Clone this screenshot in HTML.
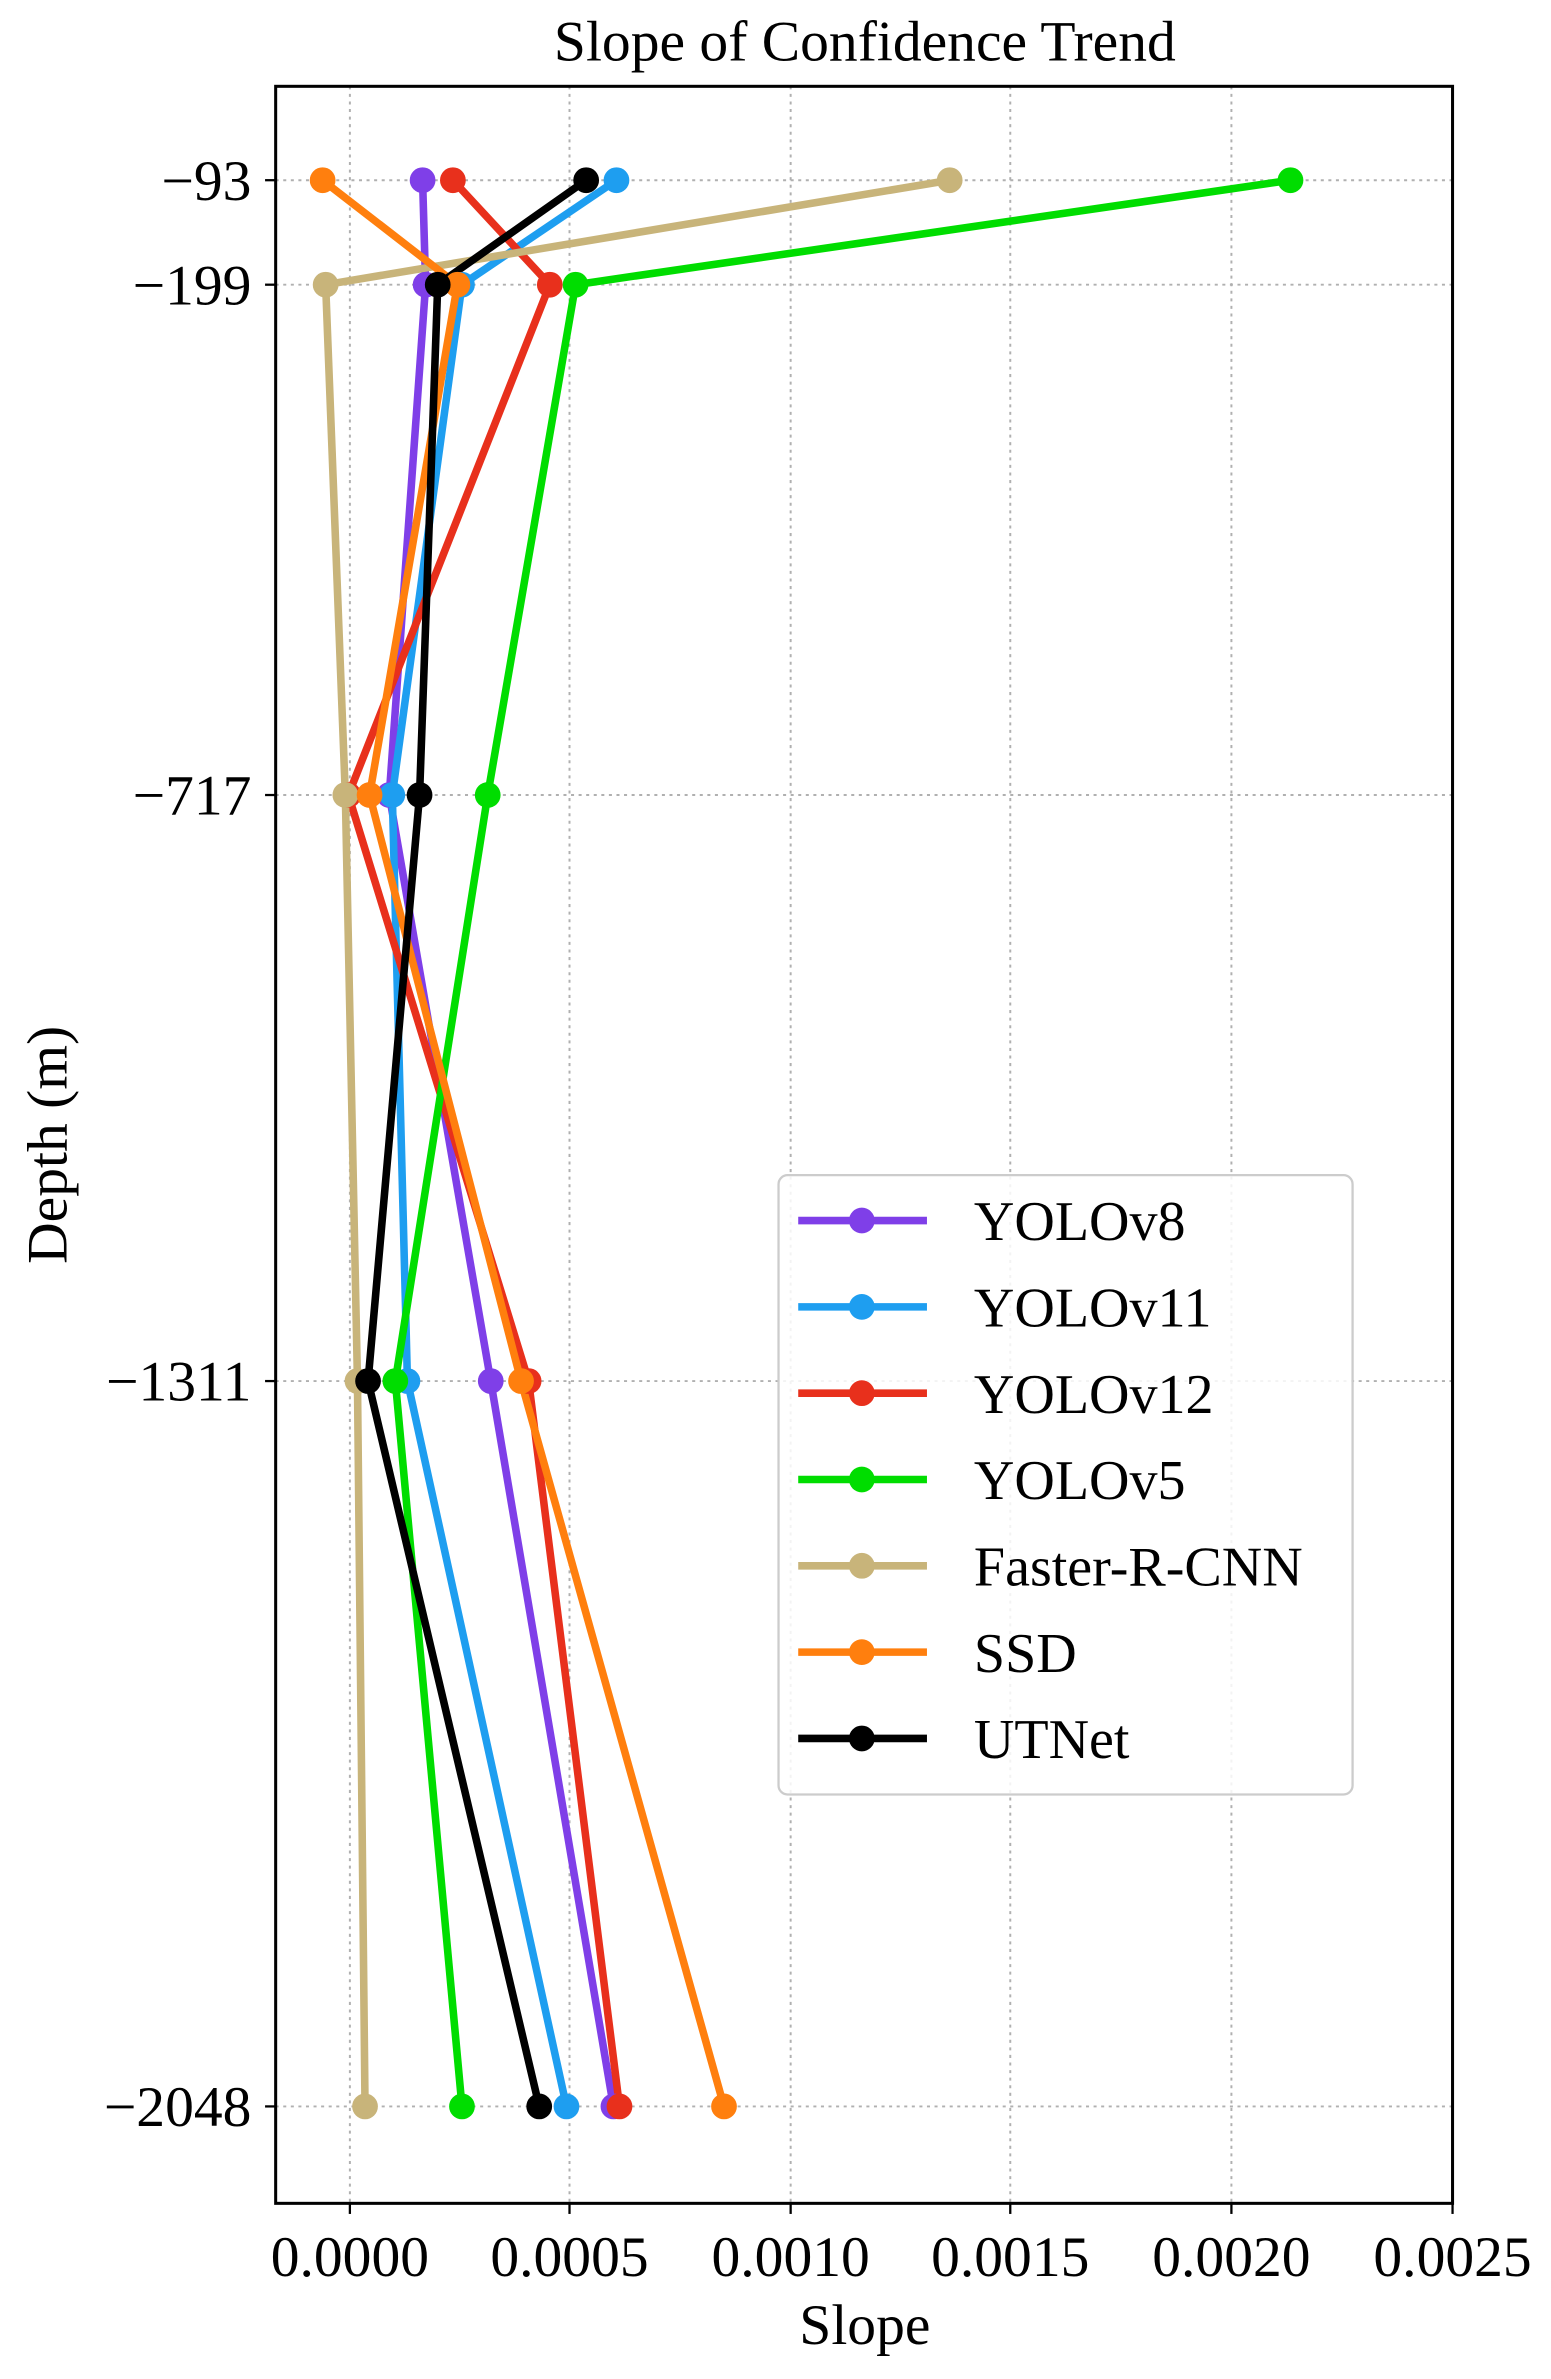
<!DOCTYPE html>
<html><head><meta charset="utf-8"><style>html,body{margin:0;padding:0;background:#fff}svg{display:block}</style></head>
<body>
<svg width="1551" height="2379" viewBox="0 0 1024 1571" preserveAspectRatio="none" xmlns="http://www.w3.org/2000/svg" font-family="Liberation Serif, serif">
<rect width="1024" height="1571" fill="#fff"/>
<g stroke="#b0b0b0" stroke-width="1.3" stroke-dasharray="2,3">
<line x1="231" y1="57" x2="231" y2="1455"/><line x1="376" y1="57" x2="376" y2="1455"/><line x1="522" y1="57" x2="522" y2="1455"/><line x1="667" y1="57" x2="667" y2="1455"/><line x1="813" y1="57" x2="813" y2="1455"/>
<line x1="182" y1="119" x2="959" y2="119"/><line x1="182" y1="188" x2="959" y2="188"/><line x1="182" y1="525" x2="959" y2="525"/><line x1="182" y1="912" x2="959" y2="912"/><line x1="182" y1="1391" x2="959" y2="1391"/>
</g>
<g fill="none" stroke-width="5" stroke-linejoin="round">
<polyline stroke="#7f3fe8" points="279,119 281,188 257,525 324,912 405,1391"/>
<polyline stroke="#1e9ef0" points="407,119 305,188 259,525 269,912 374,1391"/>
<polyline stroke="#e8301c" points="299,119 363,188 230,525 349,912 409,1391"/>
<polyline stroke="#00dd00" points="852,119 380,188 322,525 261,912 305,1391"/>
<polyline stroke="#c8b47a" points="627,119 215,188 228,525 236,912 241,1391"/>
<polyline stroke="#ff7f0e" points="213,119 302,188 244,525 344,912 478,1391"/>
<polyline stroke="#000" points="387,119 289,188 277,525 243,912 356,1391"/>
</g>
<g>
<g fill="#7f3fe8"><circle cx="279" cy="119" r="8.5"/><circle cx="281" cy="188" r="8.5"/><circle cx="257" cy="525" r="8.5"/><circle cx="324" cy="912" r="8.5"/><circle cx="405" cy="1391" r="8.5"/></g>
<g fill="#1e9ef0"><circle cx="407" cy="119" r="8.5"/><circle cx="305" cy="188" r="8.5"/><circle cx="259" cy="525" r="8.5"/><circle cx="269" cy="912" r="8.5"/><circle cx="374" cy="1391" r="8.5"/></g>
<g fill="#e8301c"><circle cx="299" cy="119" r="8.5"/><circle cx="363" cy="188" r="8.5"/><circle cx="230" cy="525" r="8.5"/><circle cx="349" cy="912" r="8.5"/><circle cx="409" cy="1391" r="8.5"/></g>
<g fill="#00dd00"><circle cx="852" cy="119" r="8.5"/><circle cx="380" cy="188" r="8.5"/><circle cx="322" cy="525" r="8.5"/><circle cx="261" cy="912" r="8.5"/><circle cx="305" cy="1391" r="8.5"/></g>
<g fill="#c8b47a"><circle cx="627" cy="119" r="8.5"/><circle cx="215" cy="188" r="8.5"/><circle cx="228" cy="525" r="8.5"/><circle cx="236" cy="912" r="8.5"/><circle cx="241" cy="1391" r="8.5"/></g>
<g fill="#ff7f0e"><circle cx="213" cy="119" r="8.5"/><circle cx="302" cy="188" r="8.5"/><circle cx="244" cy="525" r="8.5"/><circle cx="344" cy="912" r="8.5"/><circle cx="478" cy="1391" r="8.5"/></g>
<g fill="#000"><circle cx="387" cy="119" r="8.5"/><circle cx="289" cy="188" r="8.5"/><circle cx="277" cy="525" r="8.5"/><circle cx="243" cy="912" r="8.5"/><circle cx="356" cy="1391" r="8.5"/></g>
</g>
<rect x="182" y="57" width="777" height="1398" fill="none" stroke="#000" stroke-width="2"/>
<g stroke="#000" stroke-width="1.5">
<line x1="231" y1="1455" x2="231" y2="1462"/><line x1="376" y1="1455" x2="376" y2="1462"/><line x1="522" y1="1455" x2="522" y2="1462"/><line x1="667" y1="1455" x2="667" y2="1462"/><line x1="813" y1="1455" x2="813" y2="1462"/><line x1="959" y1="1455" x2="959" y2="1462"/>
<line x1="175" y1="119" x2="182" y2="119"/><line x1="175" y1="188" x2="182" y2="188"/><line x1="175" y1="525" x2="182" y2="525"/><line x1="175" y1="912" x2="182" y2="912"/><line x1="175" y1="1391" x2="182" y2="1391"/>
</g>
<g font-size="38" fill="#000" text-anchor="middle">
<text x="231" y="1503">0.0000</text><text x="376" y="1503">0.0005</text><text x="522" y="1503">0.0010</text><text x="667" y="1503">0.0015</text><text x="813" y="1503">0.0020</text><text x="959" y="1503">0.0025</text>
<text x="571" y="1548">Slope</text>
<text x="571" y="40">Slope of Confidence Trend</text>
</g>
<g font-size="38" fill="#000" text-anchor="end">
<text x="166" y="132">−93</text><text x="166" y="201">−199</text><text x="166" y="538">−717</text><text x="166" y="925">−1311</text><text x="166" y="1404">−2048</text>
</g>
<text x="0" y="0" font-size="38" text-anchor="middle" transform="translate(44,756) rotate(-90)">Depth (m)</text>
<rect x="514" y="776" width="379" height="409" rx="6" fill="#fff" fill-opacity="0.85" stroke="#ccc" stroke-width="1.5"/>
<g stroke-width="5">
<line x1="527" y1="806" x2="612" y2="806" stroke="#7f3fe8"/><line x1="527" y1="863" x2="612" y2="863" stroke="#1e9ef0"/><line x1="527" y1="920" x2="612" y2="920" stroke="#e8301c"/><line x1="527" y1="977" x2="612" y2="977" stroke="#00dd00"/><line x1="527" y1="1034" x2="612" y2="1034" stroke="#c8b47a"/><line x1="527" y1="1091" x2="612" y2="1091" stroke="#ff7f0e"/><line x1="527" y1="1148" x2="612" y2="1148" stroke="#000"/>
</g>
<circle cx="569" cy="806" r="8.5" fill="#7f3fe8"/><circle cx="569" cy="863" r="8.5" fill="#1e9ef0"/><circle cx="569" cy="920" r="8.5" fill="#e8301c"/><circle cx="569" cy="977" r="8.5" fill="#00dd00"/><circle cx="569" cy="1034" r="8.5" fill="#c8b47a"/><circle cx="569" cy="1091" r="8.5" fill="#ff7f0e"/><circle cx="569" cy="1148" r="8.5" fill="#000"/>
<g font-size="37" fill="#000">
<text x="643" y="819">YOLOv8</text><text x="643" y="876">YOLOv11</text><text x="643" y="933">YOLOv12</text><text x="643" y="990">YOLOv5</text><text x="643" y="1047">Faster-R-CNN</text><text x="643" y="1104">SSD</text><text x="643" y="1161">UTNet</text>
</g>
</svg>
</body></html>
